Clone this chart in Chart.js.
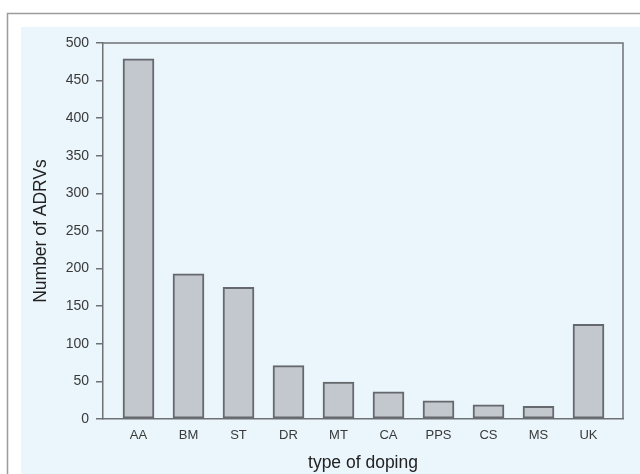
<!DOCTYPE html>
<html>
<head>
<meta charset="utf-8">
<script src="https://cdn.jsdelivr.net/npm/chart.js@4/dist/chart.umd.min.js"></script>
<style>
  html, body { margin: 0; padding: 0; background: #ffffff; }
  canvas { display: block; }
</style>
</head>
<body>
<canvas id="c" width="640" height="474"></canvas>
<script>
// Anti-doping rule violations by type of doping
const categories = ['AA', 'BM', 'ST', 'DR', 'MT', 'CA', 'PPS', 'CS', 'MS', 'UK'];
const adrvCounts = [479, 193, 175, 71, 49, 36, 24, 19, 17, 126];
const yTicks = [0, 50, 100, 150, 200, 250, 300, 350, 400, 450, 500];

const FONT = '"Liberation Sans", Arial, Helvetica, sans-serif';
const AXIS_COLOR = '#6f7274';

// Page backdrop: framed panel with a pale blue fill
const backdrop = {
  id: 'backdrop',
  beforeDraw(chart) {
    const ctx = chart.ctx;
    ctx.save();
    ctx.fillStyle = '#ffffff';
    ctx.fillRect(0, 0, chart.width, chart.height);
    ctx.strokeStyle = '#9c9c9c';
    ctx.lineWidth = 1.5;
    ctx.strokeRect(7.5, 13.5, 700, 600);
    ctx.fillStyle = '#eaf5fc';
    ctx.fillRect(21, 27, chart.width - 21, chart.height - 27);
    ctx.restore();
  },
  afterDraw(chart) {
    // close the plot box on the top and right
    const a = chart.chartArea;
    const ctx = chart.ctx;
    ctx.save();
    ctx.strokeStyle = AXIS_COLOR;
    ctx.lineWidth = 1.5;
    ctx.beginPath();
    ctx.moveTo(a.left, a.top);
    ctx.lineTo(a.right, a.top);
    ctx.lineTo(a.right, a.bottom);
    ctx.stroke();
    ctx.restore();
  }
};

new Chart(document.getElementById('c'), {
  type: 'bar',
  data: {
    datasets: [{
      data: categories.map((c, i) => ({ x: i, y: adrvCounts[i] })),
      backgroundColor: '#c3c8ce',
      borderColor: '#65696d',
      borderWidth: 2,
      borderSkipped: false,
      barThickness: 31
    }]
  },
  options: {
    responsive: false,
    animation: false,
    devicePixelRatio: 1,
    layout: { padding: { top: 43, right: 17, left: 0, bottom: 0 } },
    plugins: { legend: { display: false }, tooltip: { enabled: false } },
    scales: {
      x: {
        type: 'linear',
        offset: false,
        min: -0.71,
        max: 9.69,
        afterBuildTicks(scale) {
          scale.ticks = categories.map((c, i) => ({ value: i }));
        },
        afterFit(scale) { scale.height = 55; },
        grid: { display: false, drawTicks: false, offset: false },
        border: { display: true, color: AXIS_COLOR, width: 1.5 },
        ticks: {
          autoSkip: false,
          maxRotation: 0,
          padding: 9,
          color: '#3a3a3a',
          font: { family: FONT, size: 13 },
          callback: (v) => categories[v]
        },
        title: {
          display: true,
          text: 'type of doping',
          color: '#222222',
          font: { family: FONT, size: 17.5 },
          padding: { top: 0, bottom: 0 }
        }
      },
      y: {
        min: 0,
        max: 500,
        afterBuildTicks(scale) {
          scale.ticks = yTicks.map(v => ({ value: v }));
        },
        afterFit(scale) { scale.width = 103; },
        grid: { drawOnChartArea: false, drawTicks: true, tickLength: 7, color: AXIS_COLOR, lineWidth: 1.5 },
        border: { display: true, color: AXIS_COLOR, width: 1.5 },
        ticks: {
          padding: 7,
          color: '#3a3a3a',
          font: { family: FONT, size: 14 }
        },
        title: {
          display: true,
          text: 'Number of ADRVs',
          color: '#222222',
          font: { family: FONT, size: 17.5 },
          padding: { top: 31, bottom: 0 }
        }
      }
    }
  },
  plugins: [backdrop]
});
</script>
</body>
</html>
